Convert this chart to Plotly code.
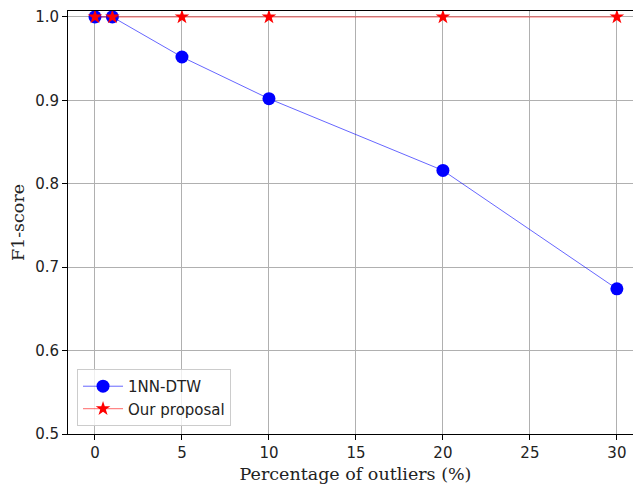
import plotly.graph_objects as go

x_pct = [0, 1, 5, 10, 20, 30]
nn_dtw = [1.0, 1.0, 0.952, 0.902, 0.816, 0.674]
our_proposal = [1.0, 1.0, 1.0, 1.0, 1.0, 1.0]
x_ticks = [0, 5, 10, 15, 20, 25, 30]
y_ticks = [0.5, 0.6, 0.7, 0.8, 0.9, 1.0]

fig = go.Figure()
fig.add_trace(go.Scatter(
    x=x_pct, y=nn_dtw, name="1NN-DTW", mode="lines+markers",
    line=dict(color="rgba(0,0,255,0.6)", width=1),
    marker=dict(color="blue", size=13, symbol="circle", line=dict(width=0)),
))
fig.add_trace(go.Scatter(
    x=x_pct, y=our_proposal, name="Our proposal", mode="lines+markers",
    line=dict(color="rgba(255,0,0,0.6)", width=1),
    marker=dict(color="red", size=11, symbol="star", line=dict(width=0)),
))

fig.update_layout(
    width=641, height=489,
    margin=dict(l=60, r=6, t=0, b=63),
    paper_bgcolor="white", plot_bgcolor="white",
    font=dict(family="DejaVu Sans", size=15, color="#222"),
    showlegend=True,
    legend=dict(
        x=0.0157, y=0.019, xanchor="left", yanchor="bottom",
        bgcolor="rgba(255,255,255,0.8)", bordercolor="#cccccc", borderwidth=1,
        font=dict(family="DejaVu Sans", size=15, color="#222"),
        itemwidth=40, tracegroupgap=2,
    ),
    xaxis=dict(
        range=[-1.55, 31.5], tickvals=x_ticks, ticktext=[str(v) for v in x_ticks],
        showgrid=True, gridcolor="#b0b0b0", gridwidth=1,
        showline=True, linecolor="black", linewidth=1, mirror=True,
        ticks="outside", ticklen=5, tickcolor="black", zeroline=False,
        ticklabeloverflow="allow",
        title=dict(text="Percentage of outliers (%)",
                   font=dict(family="DejaVu Serif", size=17.5, color="#222"), standoff=6),
    ),
    yaxis=dict(
        range=[0.5, 1.00714], tickvals=y_ticks, ticktext=[f"{v:.1f}" for v in y_ticks],
        showgrid=True, gridcolor="#b0b0b0", gridwidth=1,
        showline=True, linecolor="black", linewidth=1, mirror=True,
        ticks="outside", ticklen=5, tickcolor="black", zeroline=False,
        ticklabeloverflow="allow",
        title=dict(text="F1-score",
                   font=dict(family="DejaVu Serif", size=17.5, color="#222"), standoff=10),
    ),
)

fig.write_html("out.html")
